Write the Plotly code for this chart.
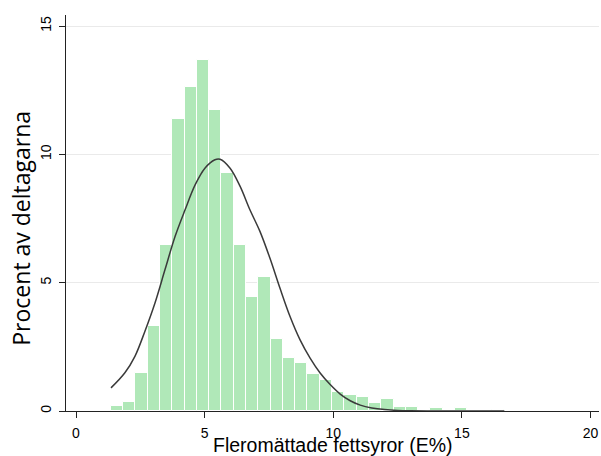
import plotly.graph_objects as go

# Histogram: percent of participants per bin
bin_start = 1.35
bin_width = 0.478
bar_pct = [0.20, 0.37, 1.50, 3.33, 6.48, 11.36, 12.63, 13.68, 11.72, 9.28,
           6.48, 4.44, 5.21, 2.82, 2.08, 1.87, 1.43, 1.20, 0.76, 0.64,
           0.54, 0.32, 0.47, 0.15, 0.15, 0.0, 0.10, 0.0, 0.10, 0.0,
           0.0, 0.04]

# Normal curve overlay
curve_x = [1.36, 1.90, 2.29, 2.68, 3.07, 3.46, 3.85, 4.24, 4.63, 5.01, 5.40,
           5.60, 5.99, 6.38, 6.76, 7.15, 7.54, 7.93, 8.32, 8.71, 9.10, 9.49,
           9.88, 10.27, 10.66, 11.05, 11.5, 12.0, 12.5, 13.0, 14.0, 15.0, 16.65]
curve_y = [0.90, 1.49, 2.13, 3.11, 4.21, 5.51, 6.80, 7.84, 8.81, 9.46, 9.79,
           9.81, 9.46, 8.75, 7.84, 7.00, 5.95, 4.78, 3.68, 2.77, 2.06, 1.48,
           1.03, 0.66, 0.40, 0.23, 0.12, 0.055, 0.022, 0.008, 0.001, 0.0, 0.0]

x_ticks = [0, 5, 10, 15, 20]
y_ticks = [0, 5, 10, 15]
x_title = "Fleromättade fettsyror (E%)"
y_title = "Procent av deltagarna"

bin_centers = [bin_start + bin_width * (i + 0.5) for i in range(len(bar_pct))]

W, H = 601, 456
plot_left, plot_right, plot_top, plot_bottom = 66, 599, 15, 411.5
ph = plot_bottom - plot_top
pw = plot_right - plot_left

fig = go.Figure()
fig.add_trace(go.Bar(
    x=bin_centers, y=bar_pct, width=bin_width,
    marker=dict(color="#B0E8B8", line=dict(color="white", width=1)),
    showlegend=False, hoverinfo="x+y",
))
fig.add_trace(go.Scatter(
    x=curve_x, y=curve_y, mode="lines", line_shape="spline",
    line=dict(color="#3a3a3a", width=1.5), showlegend=False,
))

fig.update_layout(
    width=W, height=H,
    margin=dict(l=plot_left, r=W - plot_right, t=plot_top, b=H - plot_bottom, pad=0),
    plot_bgcolor="white", paper_bgcolor="white",
    bargap=0,
    font=dict(family="Liberation Sans, Arial, sans-serif", color="black", size=14),
    xaxis=dict(
        range=[-0.389, 20.33], tickvals=x_ticks, ticktext=[str(v) for v in x_ticks],
        showline=True, linecolor="#222", linewidth=1,
        ticks="outside", ticklen=6, tickcolor="#222", tickwidth=1,
        showgrid=False, zeroline=False, ticklabelstandoff=3,
        tickfont=dict(size=14, family="Liberation Sans, Arial, sans-serif"),
    ),
    yaxis=dict(
        range=[0, 15.43], tickvals=y_ticks, ticktext=[str(v) for v in y_ticks],
        showline=True, linecolor="#222", linewidth=1,
        ticks="outside", ticklen=6, tickcolor="#222", tickwidth=1,
        showgrid=True, gridcolor="#EAEAEA", gridwidth=1, zeroline=False,
        tickangle=-90, ticklabelstandoff=2,
        tickfont=dict(size=14, family="Liberation Sans, Arial, sans-serif"),
    ),
    annotations=[
        dict(text=x_title, xref="paper", yref="paper", x=0.5, y=-(446 - plot_bottom) / ph,
             xanchor="center", yanchor="middle", showarrow=False,
             font=dict(size=19.5, family="Liberation Sans, Arial, sans-serif", color="black")),
        dict(text=y_title, xref="paper", yref="paper", x=(21 - plot_left) / pw,
             y=(plot_bottom - 229) / ph,
             xanchor="center", yanchor="middle", showarrow=False, textangle=-90,
             font=dict(size=23, family="Open Sans, sans-serif", color="black")),
    ],
)

fig.write_html("out.html", config={"displayModeBar": False},
               post_script="document.body.style.margin='0';")
